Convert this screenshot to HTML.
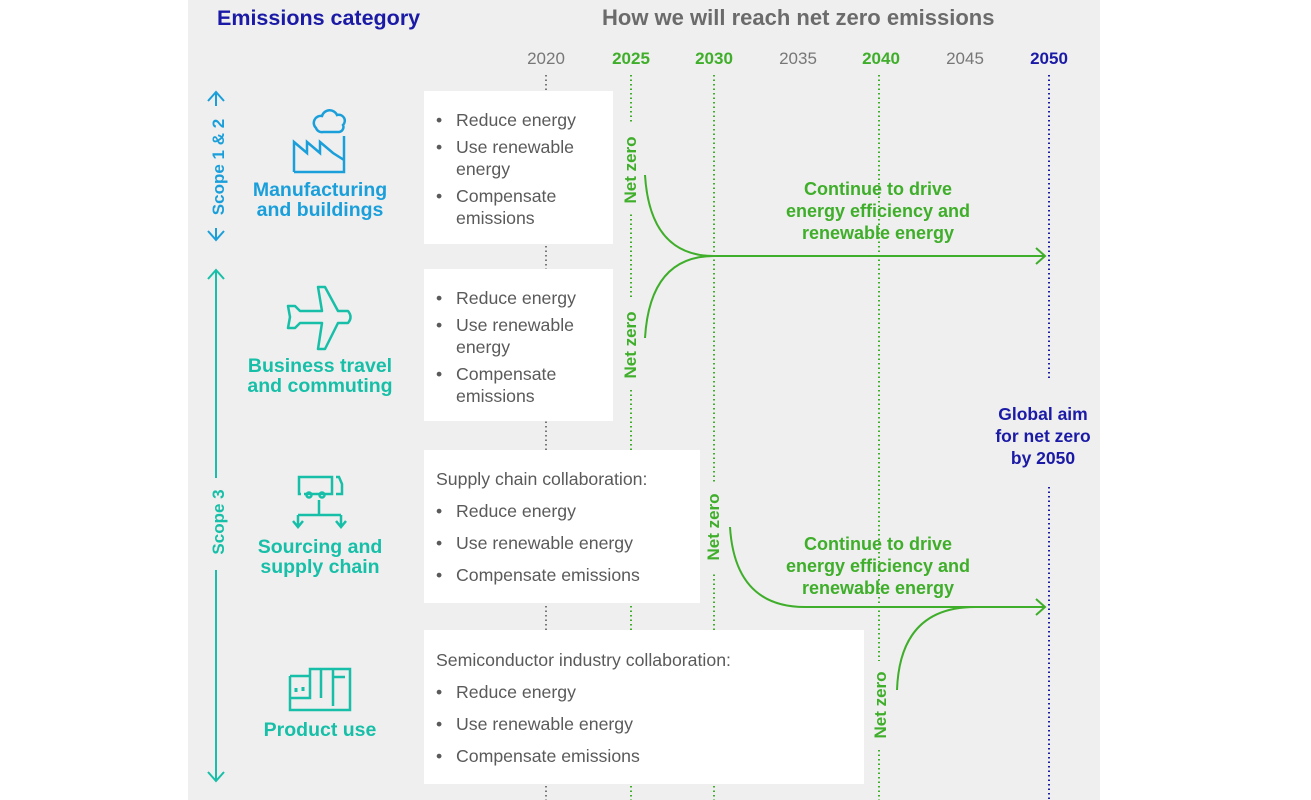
<!DOCTYPE html>
<html><head><style>
body{margin:0;background:#fff}
svg{display:block}
text{font-family:"Liberation Sans",Arial,sans-serif}
.b{font-weight:bold}
.t{font-size:17.7px;fill:#5a5a5a}
.g{fill:#3fae2a}
</style></head><body>
<svg width="1311" height="800" viewBox="0 0 1311 800">
<rect x="188" y="0" width="912" height="800" fill="#eeefee"/>
<text x="217" y="25" class="b" font-size="21.5" fill="#1b1aa6">Emissions category</text>
<text x="602" y="25" class="b" font-size="22" fill="#6b6b6b">How we will reach net zero emissions</text>
<g font-size="17" text-anchor="middle">
<text x="546" y="64" fill="#777">2020</text>
<text x="631" y="64" class="b g">2025</text>
<text x="714" y="64" class="b g">2030</text>
<text x="798" y="64" fill="#777">2035</text>
<text x="881" y="64" class="b g">2040</text>
<text x="965" y="64" fill="#777">2045</text>
<text x="1049" y="64" class="b" fill="#1b1aa6">2050</text>
</g>
<g stroke-width="2" stroke-dasharray="1.5 3" fill="none">
<line x1="546" y1="75" x2="546" y2="800" stroke="#777"/>
<line x1="631" y1="75" x2="631" y2="800" stroke="#3fae2a"/>
<line x1="714" y1="75" x2="714" y2="800" stroke="#3fae2a"/>
<line x1="879" y1="75" x2="879" y2="800" stroke="#3fae2a"/>
<line x1="1049" y1="75" x2="1049" y2="380" stroke="#1b1aa6"/>
<line x1="1049" y1="487" x2="1049" y2="800" stroke="#1b1aa6"/>
</g>
<g fill="#fff">
<rect x="424" y="91" width="189" height="153"/>
<rect x="424" y="269" width="189" height="152"/>
<rect x="424" y="450" width="276" height="153"/>
<rect x="424" y="630" width="440" height="154"/>
</g>
<g fill="#eeefee">
<rect x="620" y="124" width="22" height="90"/>
<rect x="620" y="300" width="22" height="90"/>
<rect x="703" y="484" width="22" height="88"/>
<rect x="868" y="661" width="22" height="88"/>
</g>
<g class="t">
<text x="436" y="126">•</text><text x="456" y="126">Reduce energy</text>
<text x="436" y="153">•</text><text x="456" y="153">Use renewable</text><text x="456" y="175">energy</text>
<text x="436" y="202">•</text><text x="456" y="202">Compensate</text><text x="456" y="224">emissions</text>
<text x="436" y="304">•</text><text x="456" y="304">Reduce energy</text>
<text x="436" y="331">•</text><text x="456" y="331">Use renewable</text><text x="456" y="353">energy</text>
<text x="436" y="380">•</text><text x="456" y="380">Compensate</text><text x="456" y="402">emissions</text>
<text x="436" y="485">Supply chain collaboration:</text>
<text x="436" y="517">•</text><text x="456" y="517">Reduce energy</text>
<text x="436" y="549">•</text><text x="456" y="549">Use renewable energy</text>
<text x="436" y="581">•</text><text x="456" y="581">Compensate emissions</text>
<text x="436" y="666">Semiconductor industry collaboration:</text>
<text x="436" y="698">•</text><text x="456" y="698">Reduce energy</text>
<text x="436" y="730">•</text><text x="456" y="730">Use renewable energy</text>
<text x="436" y="762">•</text><text x="456" y="762">Compensate emissions</text>
</g>
<g class="b g" font-size="17" text-anchor="middle">
<text transform="translate(636,170) rotate(-90)">Net zero</text>
<text transform="translate(636,345) rotate(-90)">Net zero</text>
<text transform="translate(719,527) rotate(-90)">Net zero</text>
<text transform="translate(886,705) rotate(-90)">Net zero</text>
</g>
<g class="b g" font-size="18" text-anchor="middle">
<text x="878" y="195">Continue to drive</text>
<text x="878" y="217">energy efficiency and</text>
<text x="878" y="239">renewable energy</text>
<text x="878" y="550">Continue to drive</text>
<text x="878" y="572">energy efficiency and</text>
<text x="878" y="594">renewable energy</text>
</g>
<g class="b" font-size="17.5" fill="#1b1aa6" text-anchor="middle">
<text x="1043" y="420">Global aim</text>
<text x="1043" y="442">for net zero</text>
<text x="1043" y="464">by 2050</text>
</g>
<g stroke="#3fae2a" stroke-width="2" fill="none">
<path d="M645 175 Q650 256 714 256 L1045 256"/>
<path d="M645 338 Q650 256 714 256"/>
<path d="M1036 248 L1045 256 L1036 264"/>
<path d="M730 527 Q735 607 805 607 L1045 607"/>
<path d="M897 690 Q900 607 975 607"/>
<path d="M1036 599 L1045 607 L1036 615"/>
</g>
<g stroke="#1a9fdb" stroke-width="2" fill="none">
<line x1="216" y1="92" x2="216" y2="240"/>
<path d="M208 101 L216 92 L224 101 M208 231 L216 240 L224 231"/>
</g>
<rect x="206" y="106" width="20" height="122" fill="#eeefee"/>
<text transform="translate(224,167) rotate(-90)" text-anchor="middle" class="b" font-size="17" fill="#1a9fdb">Scope 1 &amp; 2</text>
<g stroke="#17bfa8" stroke-width="2" fill="none">
<line x1="216" y1="270" x2="216" y2="781"/>
<path d="M208 279 L216 270 L224 279 M208 772 L216 781 L224 772"/>
</g>
<rect x="206" y="478" width="20" height="92" fill="#eeefee"/>
<text transform="translate(224,522) rotate(-90)" text-anchor="middle" class="b" font-size="17" fill="#17bfa8">Scope 3</text>
<g stroke="#1a9fdb" stroke-width="2.5" fill="none">
<path d="M294 172 L294 142 L307 153 L307 142 L320 153 L320 142 L333 153 L344 160 M344 136 L344 172 L294 172"/>
<path d="M316 128 a7 7 0 0 1 6 -12 a8 8 0 0 1 15 -1 a6 6 0 0 1 6 10 a5 5 0 0 1 -4 7 l-16 0 a6 6 0 0 1 -7 -4z"/>
</g>
<g class="b" font-size="19.5" fill="#1a9fdb" text-anchor="middle">
<text x="320" y="196">Manufacturing</text><text x="320" y="216">and buildings</text>
</g>
<g stroke="#17bfa8" stroke-width="2.5" fill="none" stroke-linejoin="round">
<path d="M318 287 L325 287 L338 311 L348 311 Q353 317 348 323 L338 323 L325 349 L318 349 L322 323 L300 323 L295 328 L288 328 L290 317 L288 306 L295 306 L300 311 L322 311 Z"/>
</g>
<g class="b" font-size="19.5" fill="#17bfa8" text-anchor="middle">
<text x="320" y="372">Business travel</text><text x="320" y="392">and commuting</text>
<text x="320" y="553">Sourcing and</text><text x="320" y="573">supply chain</text>
<text x="320" y="736">Product use</text>
</g>
<g stroke="#17bfa8" stroke-width="2.5" fill="none">
<path d="M301 494 L299 494 L299 477 L332 477 L332 494 L304 494 M336 477 L339 477 L342 484 L342 494 L336 494"/>
<circle cx="309" cy="495" r="2.5"/><circle cx="322" cy="495" r="2.5"/>
<path d="M319 500 L319 515 M298 515 L341 515 M298 515 L298 525 M341 515 L341 525 M293 521 L298 527 L303 521 M336 521 L341 527 L346 521"/>
<path d="M290 676 L310 676 M290 676 L290 710 L350 710 L350 669 L310 669 L310 698 L290 698 M321 669 L321 698 M333 669 L333 706 M333 677 L345 677"/>
<path d="M296 688 L296 692 M303 687 L303 691" stroke-width="3"/>
</g>
</svg>
</body></html>
